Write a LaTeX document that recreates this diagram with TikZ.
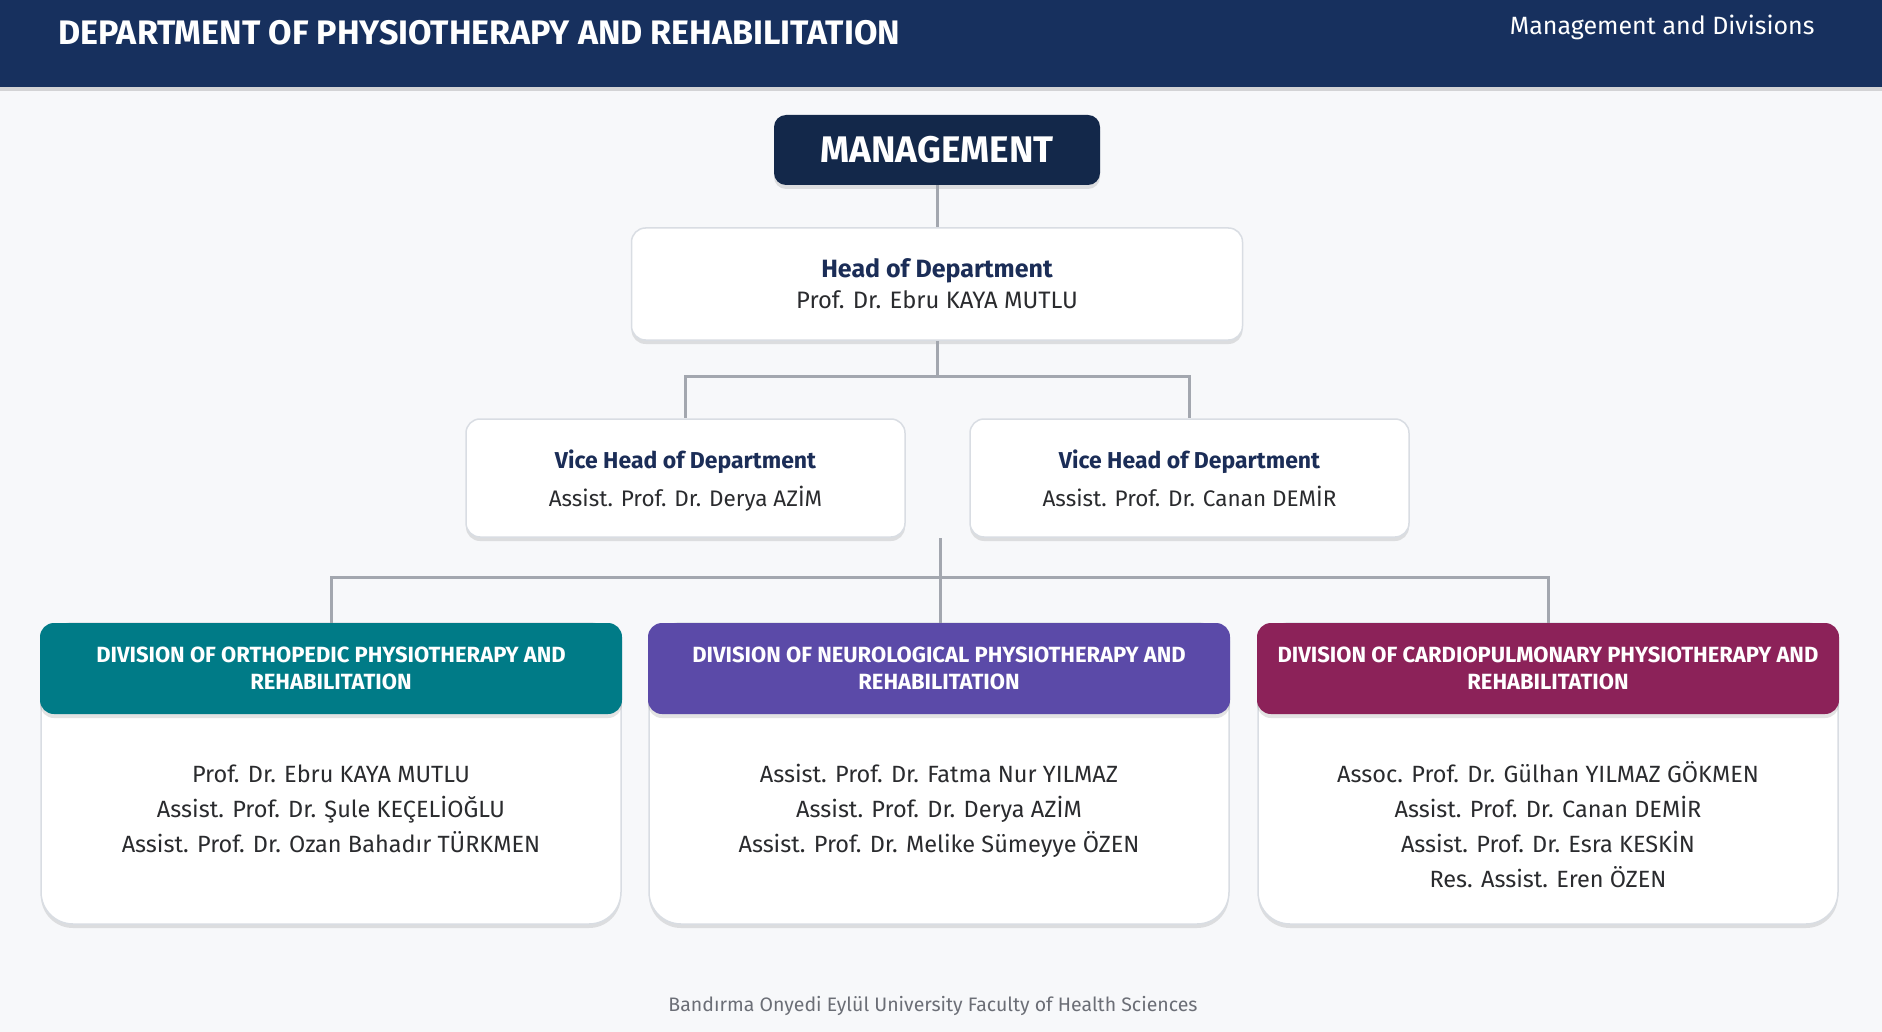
\documentclass[tikz,border=0pt]{standalone}
\usepackage{fontspec}
\setmainfont{Fira Sans}
\usetikzlibrary{positioning,calc,shadows}
\definecolor{pagebg}{HTML}{F7F8FA}
\definecolor{navybar}{HTML}{17305E}
\definecolor{navybox}{HTML}{13284A}
\definecolor{navytext}{HTML}{1B2D57}
\definecolor{nametext}{HTML}{2A2B2E}
\definecolor{linkgray}{HTML}{A3A7AF}
\definecolor{cardline}{HTML}{D9DDE3}
\definecolor{orthoteal}{HTML}{007B87}
\definecolor{neuropurple}{HTML}{5B4AA8}
\definecolor{cardiomaroon}{HTML}{8C2259}
\definecolor{footgray}{HTML}{6B6E76}
\newcommand{\namestrut}{\rule{0pt}{22pt}}
\tikzset{LINK/.style={draw=linkgray, line width=3pt}}
\tikzset{SHADE/.style={drop shadow={opacity=0.22, shadow xshift=0pt, shadow yshift=-4pt}}}
\tikzset{CARD/.style={rectangle, rounded corners=14pt, fill=white, draw=cardline, line width=1.5pt, SHADE, inner sep=0pt, align=center, text=nametext}}
\tikzset{DIVCARD/.style={CARD, rounded corners=32pt, minimum width=580pt, minimum height=301pt}}
\tikzset{DIVHEAD/.style={rectangle, rounded corners=14pt, SHADE, inner sep=0pt, minimum width=582pt, minimum height=91pt, align=center, text=white, font=\fontsize{22}{27}\selectfont\bfseries}}
\tikzset{NAMES/.style={anchor=north, align=center, text=nametext, font=\fontsize{23.5}{35}\selectfont}}

\begin{document}
\begin{tikzpicture}[x=1pt, y=-1pt]
    \fill[pagebg] (0,0) rectangle (1882,1032);
    \useasboundingbox (0,0) rectangle (1882,1032);

    % banner
    \node[rectangle, fill=navybar, minimum width=1882pt, minimum height=87pt, inner sep=0pt,
          drop shadow={opacity=0.3, shadow xshift=0pt, shadow yshift=-4pt}] (n_banner) at (941,43.5) {};
    \node[anchor=west, text=white, font=\fontsize{34}{34}\selectfont\bfseries] (n_title) at (55,33)
        {DEPARTMENT OF PHYSIOTHERAPY AND REHABILITATION};
    \node[anchor=east, text=white, font=\fontsize{25}{25}\selectfont] (n_subtitle) at (1818,27)
        {Management and Divisions};

    % management levels
    \node[rectangle, rounded corners=12pt, fill=navybox, SHADE, minimum width=326pt, minimum height=70pt,
          text=white, font=\fontsize{37}{37}\selectfont\bfseries] (n_mgmt) at (937,150) {MANAGEMENT};

    \node[CARD, minimum width=611pt, minimum height=112pt, font=\fontsize{23.8}{31}\selectfont] (n_head) at (937,284)
        {{\fontsize{25}{31}\selectfont\bfseries\color{navytext}Head of Department}\\Prof. Dr. Ebru KAYA MUTLU};

    \node[CARD, minimum width=439pt, minimum height=118pt, text depth=0pt, font=\fontsize{22.5}{31}\selectfont] (n_vice1) at (685.5,478)
        {{\fontsize{23}{31}\selectfont\bfseries\color{navytext}Vice Head of Department}\\[7pt]Assist. Prof. Dr. Derya AZİM};
    \node[CARD, minimum width=439pt, minimum height=118pt, text depth=0pt, font=\fontsize{22.5}{31}\selectfont] (n_vice2) at (1189.5,478)
        {{\fontsize{23}{31}\selectfont\bfseries\color{navytext}Vice Head of Department}\\[7pt]Assist. Prof. Dr. Canan DEMİR};

    % divisions
    \node[DIVCARD] (n_ortho) at (331,773.5) {};
    \node[DIVCARD] (n_neuro) at (939,773.5) {};
    \node[DIVCARD] (n_cardio) at (1548,773.5) {};

    \node[DIVHEAD, fill=orthoteal] (n_ortho_hd) at (331,668.5)
        {DIVISION OF ORTHOPEDIC PHYSIOTHERAPY AND\\REHABILITATION};
    \node[DIVHEAD, fill=neuropurple] (n_neuro_hd) at (939,668.5)
        {DIVISION OF NEUROLOGICAL PHYSIOTHERAPY AND\\REHABILITATION};
    \node[DIVHEAD, fill=cardiomaroon] (n_cardio_hd) at (1548,668.5)
        {DIVISION OF CARDIOPULMONARY PHYSIOTHERAPY AND\\REHABILITATION};

    \node[NAMES] (n_ortho_names) at (331,756.5)
        {\namestrut Prof. Dr. Ebru KAYA MUTLU\\Assist. Prof. Dr. Şule KEÇELİOĞLU\\Assist. Prof. Dr. Ozan Bahadır TÜRKMEN};
    \node[NAMES] (n_neuro_names) at (939,756.5)
        {\namestrut Assist. Prof. Dr. Fatma Nur YILMAZ\\Assist. Prof. Dr. Derya AZİM\\Assist. Prof. Dr. Melike Sümeyye ÖZEN};
    \node[NAMES] (n_cardio_names) at (1548,756.5)
        {\namestrut Assoc. Prof. Dr. Gülhan YILMAZ GÖKMEN\\Assist. Prof. Dr. Canan DEMİR\\Assist. Prof. Dr. Esra KESKİN\\Res. Assist. Eren ÖZEN};

    % connectors
    \coordinate (split_top) at ($(n_head.south)+(0,36)$);
    \coordinate (split_low) at (940,538);
    \coordinate (bus_mid) at (940,577);
    \draw[LINK] (n_mgmt.south) -- (n_head.north);
    \draw[LINK] (n_head.south) -- (split_top);
    \draw[LINK] (split_top) -| (n_vice1.north);
    \draw[LINK] (split_top) -| (n_vice2.north);
    \draw[LINK] (split_low) -- (n_neuro_hd.north -| split_low);
    \draw[LINK] (bus_mid) -| (n_ortho_hd.north);
    \draw[LINK] (bus_mid) -| (n_cardio_hd.north);

    % footer
    \node[text=footgray, font=\fontsize{19.5}{19.5}\selectfont] (n_footer) at (933,1006)
        {Bandırma Onyedi Eylül University Faculty of Health Sciences};
\end{tikzpicture}
\end{document}
